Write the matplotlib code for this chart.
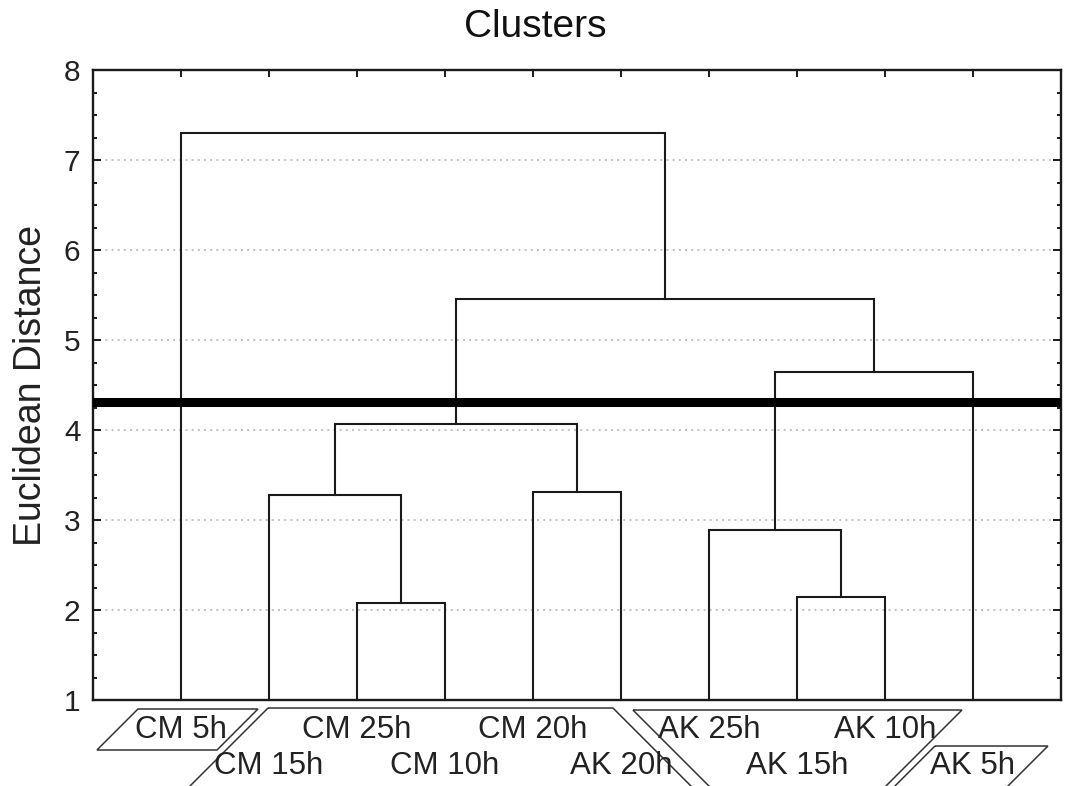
import matplotlib
matplotlib.use('Agg')
import matplotlib.pyplot as plt
from matplotlib.patches import Polygon
from matplotlib.transforms import blended_transform_factory
from matplotlib.ticker import MultipleLocator

plt.rcParams['font.family'] = ['Liberation Sans', 'DejaVu Sans']

# Leaves in dendrogram order
labels = ['CM 5h', 'CM 15h', 'CM 25h', 'CM 10h', 'CM 20h',
          'AK 20h', 'AK 25h', 'AK 15h', 'AK 10h', 'AK 5h']

# Merges: (child a, child b, linkage distance); new nodes numbered from 10
merge_a = [2, 7, 6, 1, 4, 13, 12, 15, 0]
merge_b = [3, 8, 11, 10, 5, 14, 9, 16, 17]
merge_h = [2.08, 2.15, 2.89, 3.28, 3.31, 4.07, 4.65, 5.46, 7.30]

cut_height = 4.31

y_min, y_max = 1, 8

fig = plt.figure(figsize=(10.65, 7.86), dpi=100)
ax = fig.add_axes([0.0873, 0.1094, 0.9089, 0.8015])

# node positions
n = len(labels)
node_x = {i: i + 1 for i in range(n)}
node_h = {i: y_min for i in range(n)}
for k, (a, b, h) in enumerate(zip(merge_a, merge_b, merge_h)):
    xa, xb = node_x[a], node_x[b]
    ax.plot([xa, xa, xb, xb], [node_h[a], h, h, node_h[b]],
            color='#1a1a1a', lw=1.5, solid_joinstyle='miter', zorder=3)
    node_x[n + k] = (xa + xb) / 2
    node_h[n + k] = h

# cut line
ax.axhline(cut_height, color='black', lw=6.5, zorder=4)

ax.set_xlim(0, n + 1)
ax.set_ylim(y_min, y_max)

# grid and ticks
ax.yaxis.set_major_locator(MultipleLocator(1))
ax.yaxis.set_minor_locator(MultipleLocator(0.25))
ax.set_xticks(range(1, n + 1))
ax.set_xticklabels([])
ax.grid(axis='y', which='major', linestyle=(0, (1.2, 2.5)), color='#b8b8b8', lw=1.2)
ax.tick_params(axis='both', which='both', direction='in', top=True, right=True,
               color='#1a1a1a', width=1.4)
ax.tick_params(axis='y', which='major', length=6, labelsize=21.5, pad=9,
               labelcolor='#222222')
ax.tick_params(axis='y', which='minor', length=3)
ax.tick_params(axis='x', which='major', length=5)
for s in ax.spines.values():
    s.set_linewidth(1.7)
    s.set_color('#1a1a1a')

ax.set_ylabel('Euclidean Distance', fontsize=27, color='#222222', labelpad=11)
fig.text(0.503, 0.966, 'Clusters', ha='center', va='center', fontsize=28, color='#111111')

# leaf labels in two staggered rows
trans = blended_transform_factory(ax.transData, ax.transAxes)
ax_h_px = 0.8015 * 786
for i, lab in enumerate(labels):
    dy = 30 if i % 2 == 0 else 66
    ax.text(i + 1, -dy / ax_h_px, lab, transform=trans, ha='center', va='center',
            fontsize=22.5, color='#222222', clip_on=False)

# slanted label frames: (top-left x, top-right x, top px below axis, bottom px, left slope, right slope)
frames = [(0.511, 1.875, 9, 50, -1, -1),
          (1.989, 5.909, 8, 130, -1, 1),
          (6.136, 9.875, 10, 130, 1, -1),
          (9.568, 10.852, 46, 130, -1, -1)]
px_per_x = 0.9089 * 1065 / (n + 1)
for xl, xr, t, b, sl, sr in frames:
    d = (b - t) / px_per_x
    pts = [(xl, -t / ax_h_px), (xr, -t / ax_h_px),
           (xr + sr * d, -b / ax_h_px), (xl + sl * d, -b / ax_h_px)]
    ax.add_patch(Polygon(pts, closed=True, fill=False, edgecolor='#333333', lw=1.1,
                         transform=trans, clip_on=False))

fig.savefig('out.png', dpi=100)
